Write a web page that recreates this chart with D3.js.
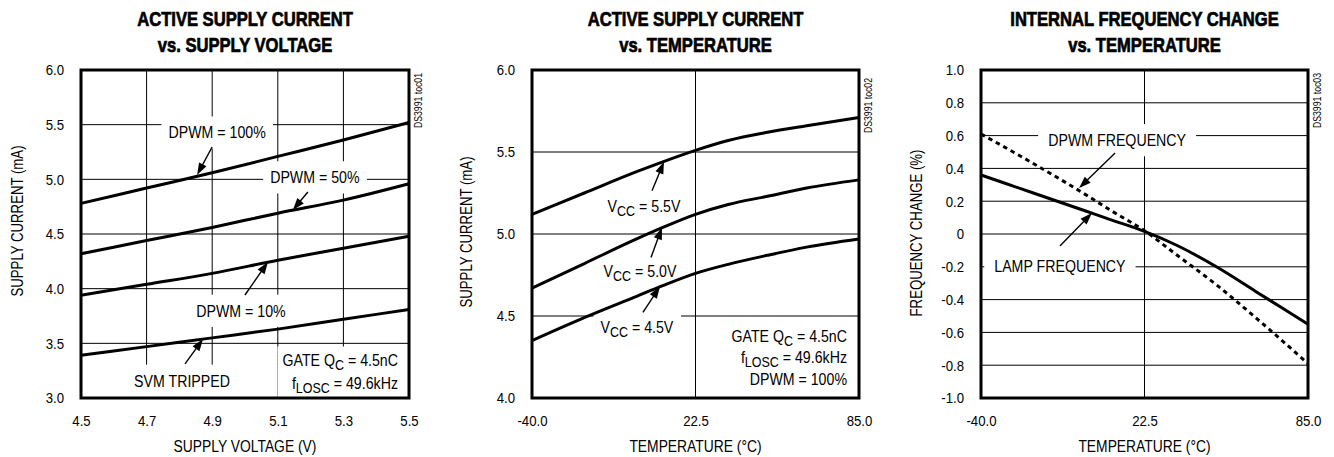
<!DOCTYPE html>
<html><head><meta charset="utf-8">
<script src="https://cdn.jsdelivr.net/npm/d3@7"></script>
<style>
body{margin:0;background:#fff;}
svg{display:block;font-family:"Liberation Sans",Arial,Helvetica,sans-serif;}
</style></head><body>
<svg id="chart" width="1334" height="457"></svg>
<script>
// ---------- DATA ----------
// Panel 1: Active supply current vs supply voltage
const p1Voltage = [4.5, 4.7, 4.9, 5.1, 5.3, 5.5];
const p1Dpwm100 = [4.78, 4.92, 5.06, 5.21, 5.36, 5.52];
const p1Dpwm50  = [4.32, 4.44, 4.56, 4.69, 4.81, 4.96];
const p1Dpwm10  = [3.94, 4.04, 4.14, 4.26, 4.37, 4.48];
const p1Svm     = [3.39, 3.47, 3.55, 3.63, 3.72, 3.81];
const p1XTicks  = [4.5, 4.7, 4.9, 5.1, 5.3, 5.5];
const p1YTicks  = [3.0, 3.5, 4.0, 4.5, 5.0, 5.5, 6.0];

// Panel 2: Active supply current vs temperature
const p2Temp   = [-40, -20, 0, 10, 22.5, 35, 50, 65, 85];
const p2Vcc55  = [5.12, 5.25, 5.38, 5.44, 5.51, 5.57, 5.62, 5.66, 5.71];
const p2Vcc50  = [4.67, 4.82, 4.97, 5.04, 5.12, 5.18, 5.23, 5.28, 5.33];
const p2Vcc45  = [4.35, 4.49, 4.62, 4.685, 4.76, 4.815, 4.87, 4.92, 4.97];
const p2XTicks = [-40, 22.5, 85];
const p2YTicks = [4.0, 4.5, 5.0, 5.5, 6.0];

// Panel 3: Internal frequency change vs temperature
const p3Temp   = [-40, -20, 0, 10, 22.5, 35, 50, 65, 85];
const p3Dpwm   = [0.61, 0.43, 0.24, 0.14, 0.02, -0.13, -0.31, -0.51, -0.79];
const p3Lamp   = [0.36, 0.25, 0.14, 0.085, 0.016, -0.07, -0.20, -0.35, -0.55];
const p3XTicks = [-40, 22.5, 85];
const p3YTicks = [-1.0, -0.8, -0.6, -0.4, -0.2, 0, 0.2, 0.4, 0.6, 0.8, 1.0];

// ---------- LAYOUT ----------
const TOP = 70, BOTTOM = 398;
const TICK_FS = 15, LABEL_FS = 16.5, AXT_FS = 16.5, TITLE_FS = 20;
const SX_TICK = 0.88, SX_LABEL = 0.86, SX_XT = 0.84, SX_YT = 0.80, SX_TITLE = 0.83, SX_CODE = 0.83;
const svg = d3.select("#chart");
const f1 = d3.format(".1f");
const fmt1 = d => (d < 0 ? "-" : "") + f1(Math.abs(d));
const fmtSigned = d => d === 0 ? "0" : fmt1(d);

const panels = [
  {
    left: 81, right: 409, xDomain: [4.5, 5.5], yDomain: [3, 6],
    xTicks: p1XTicks, yTicks: p1YTicks, xGrid: p1XTicks, yGrid: p1YTicks,
    xFmt: fmt1, yFmt: fmt1,
    title: ["ACTIVE SUPPLY CURRENT", "vs. SUPPLY VOLTAGE"],
    xTitle: "SUPPLY VOLTAGE (V)", yTitle: "SUPPLY CURRENT (mA)", yTitleX: 23, yTitleY: 221,
    code: "DS3991 toc01", codeY: 73,
    series: [
      {x: p1Voltage, y: p1Dpwm100}, {x: p1Voltage, y: p1Dpwm50},
      {x: p1Voltage, y: p1Dpwm10}, {x: p1Voltage, y: p1Svm}
    ],
    ann: [
      {text: "DPWM = 100%", tip: [4.854, 5.04], tail: [15, -28], lab: [20, -36.5]},
      {text: "DPWM = 50%", tip: [5.146, 4.72], tail: [15, -18], lab: [22, -26.7]},
      {text: "DPWM = 10%", tip: [5.070, 4.244], tail: [-23, 33], lab: [-27, 54.7]},
      {text: "SVM TRIPPED", tip: [4.872, 3.54], tail: [-18, 25], lab: [-21, 47.7]}
    ],
    notes: {x: 398, base: [365.5, 389], lines: ["GATE Q_{C} = 4.5nC", "f_{LOSC} = 49.6kHz"], bg: true}
  },
  {
    left: 532, right: 859, xDomain: [-40, 85], yDomain: [4, 6],
    xTicks: p2XTicks, yTicks: p2YTicks, xGrid: [22.5], yGrid: [4.5, 5.0, 5.5],
    xFmt: fmt1, yFmt: fmt1,
    title: ["ACTIVE SUPPLY CURRENT", "vs. TEMPERATURE"],
    xTitle: "TEMPERATURE (°C)", yTitle: "SUPPLY CURRENT (mA)", yTitleX: 472, yTitleY: 232,
    code: "DS3991 toc02", codeY: 78,
    series: [
      {x: p2Temp, y: p2Vcc55}, {x: p2Temp, y: p2Vcc50}, {x: p2Temp, y: p2Vcc45}
    ],
    ann: [
      {text: "V_{CC} = 5.5V", tip: [10.46, 5.44], tail: [-12, 29], lab: [-20, 49.7]},
      {text: "V_{CC} = 5.0V", tip: [9.7, 5.04], tail: [-11, 30], lab: [-22, 49.7]},
      {text: "V_{CC} = 4.5V", tip: [8.9, 4.68], tail: [-17, 26], lab: [-23, 46.3]}
    ],
    notes: {x: 847, base: [342, 363, 385], lines: ["GATE Q_{C} = 4.5nC", "f_{LOSC} = 49.6kHz", "DPWM = 100%"], bg: false}
  },
  {
    left: 981, right: 1308, xDomain: [-40, 85], yDomain: [-1, 1],
    xTicks: p3XTicks, yTicks: p3YTicks, xGrid: [22.5], yGrid: p3YTicks,
    xFmt: fmt1, yFmt: fmtSigned,
    title: ["INTERNAL FREQUENCY CHANGE", "vs. TEMPERATURE"],
    xTitle: "TEMPERATURE (°C)", yTitle: "FREQUENCY CHANGE (%)", yTitleX: 922, yTitleY: 233,
    code: "DS3991 toc03", codeY: 73,
    series: [
      {x: p3Temp, y: p3Dpwm, dash: "4.5,4"}, {x: p3Temp, y: p3Lamp}
    ],
    ann: [
      {text: "DPWM FREQUENCY", tip: [-2.5, 0.28], tail: [36, -35], lab: [38, -42], pad: [10, 7]},
      {text: "LAMP FREQUENCY", tip: [2.4, 0.128], tail: [-32, 33], lab: [-32, 58.7], pad: [10, 7]}
    ],
    notes: null
  }
];

// text with "_{...}" subscripts, horizontally condensed by sx, anchored at (X,Y)
function condensedText(parent, str, X, Y, anchor, fs, sx, weight) {
  const g = parent.append("g").attr("transform", `translate(${X},${Y}) scale(${sx},1)`);
  const t = g.append("text").attr("x", 0).attr("y", 0)
    .attr("text-anchor", anchor).attr("font-size", fs).attr("fill", "#000");
  if (weight) t.attr("font-weight", weight);
  const parts = str.split(/(_\{[^}]*\})/).filter(s => s.length);
  let down = false;
  parts.forEach(p => {
    const m = p.match(/^_\{([^}]*)\}$/);
    const ts = t.append("tspan");
    if (m) {
      ts.text(m[1]).attr("dy", 4).attr("font-size", fs * 0.88);
      down = true;
    } else {
      ts.text(p);
      if (down) { ts.attr("dy", -4); down = false; }
    }
  });
  const bb = t.node().getBBox();
  return {g, t, box: {x: X + bb.x * sx, y: Y + bb.y, w: bb.width * sx, h: bb.height}};
}

panels.forEach(P => {
  const x = d3.scaleLinear().domain(P.xDomain).range([P.left, P.right]);
  const y = d3.scaleLinear().domain(P.yDomain).range([BOTTOM, TOP]);
  const g = svg.append("g");
  const cx = (P.left + P.right) / 2;

  // titles
  P.title.forEach((t, i) => {
    const r = condensedText(g, t, cx, 26 + i * 26, "middle", TITLE_FS, SX_TITLE, "bold");
    r.t.attr("stroke", "#000").attr("stroke-width", 0.7);
  });

  // grid
  const grid = g.append("g").attr("stroke", "#000").attr("stroke-width", 1);
  grid.selectAll(".vg").data(P.xGrid).join("line")
    .attr("x1", d => x(d)).attr("x2", d => x(d)).attr("y1", TOP).attr("y2", BOTTOM);
  grid.selectAll(".hg").data(P.yGrid).join("line")
    .attr("x1", P.left).attr("x2", P.right).attr("y1", d => y(d)).attr("y2", d => y(d));

  const bgLayer = g.append("g");
  const curveLayer = g.append("g");
  const arrowLayer = g.append("g");
  const labelLayer = g.append("g");

  // curves
  const line = d3.line().x(d => x(d[0])).y(d => y(d[1])).curve(d3.curveMonotoneX);
  P.series.forEach(s => {
    const pts = s.x.map((v, i) => [v, s.y[i]]);
    curveLayer.append("path").attr("d", line(pts)).attr("fill", "none")
      .attr("stroke", "#000").attr("stroke-width", 3)
      .attr("stroke-dasharray", s.dash || null)
      .attr("stroke-linejoin", "round");
  });

  // annotations
  P.ann.forEach(a => {
    const px = x(a.tip[0]), py = y(a.tip[1]);
    const tx = px + a.tail[0], ty = py + a.tail[1];
    const dx = px - tx, dy = py - ty, len = Math.hypot(dx, dy);
    const ux = dx / len, uy = dy / len, L = 12, HW = 4.2;
    const bx = px - ux * L, by = py - uy * L;
    arrowLayer.append("line").attr("x1", tx).attr("y1", ty).attr("x2", bx + ux * 2).attr("y2", by + uy * 2)
      .attr("stroke", "#000").attr("stroke-width", 1.4);
    arrowLayer.append("polygon")
      .attr("points", [[px, py], [bx - uy * HW, by + ux * HW], [bx + uy * HW, by - ux * HW]].map(p => p.join(",")).join(" "))
      .attr("fill", "#000");
    const r = condensedText(labelLayer, a.text, px + a.lab[0], py + a.lab[1], "middle", LABEL_FS, SX_LABEL);
    const pad = a.pad || [7, 7];
    bgLayer.append("rect").attr("x", r.box.x - pad[0]).attr("y", r.box.y - pad[1])
      .attr("width", r.box.w + 2 * pad[0]).attr("height", r.box.h + 2 * pad[1]).attr("fill", "#fff");
  });

  // notes
  if (P.notes) {
    const boxes = P.notes.lines.map((s, i) =>
      condensedText(labelLayer, s, P.notes.x, P.notes.base[i], "end", LABEL_FS, SX_LABEL).box);
    if (P.notes.bg) {
      const x0 = d3.min(boxes, b => b.x);
      const y0 = d3.min(boxes, b => b.y);
      bgLayer.append("rect").attr("x", x0 - 5).attr("y", y0 - 4)
        .attr("width", P.right - x0 + 5).attr("height", BOTTOM - y0 + 4).attr("fill", "#fff");
    }
  }

  // frame
  g.append("rect").attr("x", P.left).attr("y", TOP).attr("width", P.right - P.left)
    .attr("height", BOTTOM - TOP).attr("fill", "none").attr("stroke", "#000").attr("stroke-width", 3);

  // axes
  const ax = g.append("g").attr("transform", `translate(0,${BOTTOM})`)
    .call(d3.axisBottom(x).tickValues(P.xTicks).tickFormat(P.xFmt).tickSize(0).tickPadding(17));
  const ay = g.append("g").attr("transform", `translate(${P.left},0)`)
    .call(d3.axisLeft(y).tickValues(P.yTicks).tickFormat(P.yFmt).tickSize(0).tickPadding(17));
  [ax, ay].forEach(a => {
    a.select(".domain").remove();
    a.attr("font-family", null).attr("font-size", TICK_FS);
    a.selectAll("text").attr("fill", "#000").attr("transform", `scale(${SX_TICK},1)`);
  });
  ay.selectAll("text").attr("x", -17 / SX_TICK);

  // axis titles
  condensedText(g, P.xTitle, cx, 452, "middle", AXT_FS, SX_XT);
  g.append("text")
    .attr("transform", `translate(${P.yTitleX},${P.yTitleY}) rotate(-90) scale(${SX_YT},1)`)
    .attr("text-anchor", "middle").attr("font-size", AXT_FS).attr("fill", "#000").text(P.yTitle);

  // chart code
  g.append("text").attr("transform", `translate(${P.right + 13},${P.codeY}) rotate(-90) scale(${SX_CODE},1)`)
    .attr("text-anchor", "end").attr("font-size", 10.5).attr("fill", "#000").text(P.code);
});
</script></body></html>
